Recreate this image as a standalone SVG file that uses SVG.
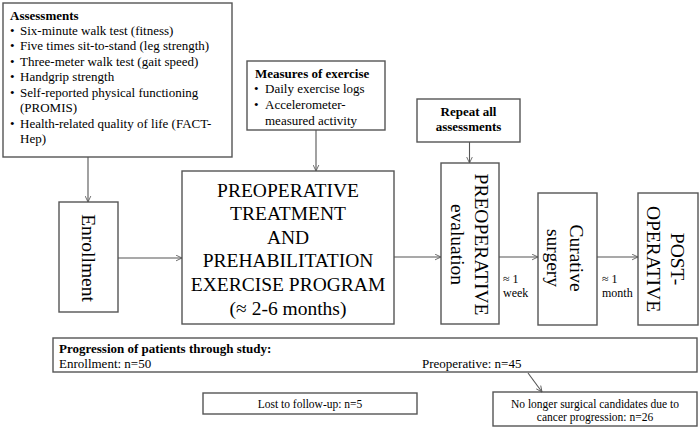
<svg xmlns="http://www.w3.org/2000/svg" width="700" height="429" viewBox="0 0 700 429">
<defs>
<marker id="arr" viewBox="0 0 10 10" refX="9.5" refY="5" markerWidth="7" markerHeight="7" markerUnits="userSpaceOnUse" orient="auto">
<path d="M1,1 L9.5,5 L1,9" fill="none" stroke="#555" stroke-width="1.2"/>
</marker>
<style>
.box{fill:#fff;stroke:#555;stroke-width:1.4}
.t{font-family:"Liberation Serif","Times New Roman",serif;fill:#000}
.s13{font-size:13px}
.b{font-weight:bold}
.big{font-size:19.5px}
.sm{font-size:12px}
.xs{font-size:11.5px}
.mid{text-anchor:middle}
.con{stroke:#555;stroke-width:1.1;fill:none;marker-end:url(#arr)}
</style>
</defs>
<rect width="700" height="429" fill="#fff"/>

<g id="assessments">
<rect class="box" x="3" y="3" width="229" height="154"/>
<text class="t s13 b" x="10" y="19.5">Assessments</text>
<g class="t s13">
<text x="10" y="34.5">•</text><text x="20" y="34.5">Six-minute walk test (fitness)</text>
<text x="10" y="50">•</text><text x="20" y="50">Five times sit-to-stand (leg strength)</text>
<text x="10" y="65.5">•</text><text x="20" y="65.5">Three-meter walk test (gait speed)</text>
<text x="10" y="81">•</text><text x="20" y="81">Handgrip strength</text>
<text x="10" y="96.5">•</text><text x="20" y="96.5">Self-reported physical functioning</text>
<text x="20" y="112">(PROMIS)</text>
<text x="10" y="127.5">•</text><text x="20" y="127.5">Health-related quality of life (FACT-</text>
<text x="20" y="143">Hep)</text>
</g>
</g>

<g id="measures">
<rect class="box" x="247" y="61" width="138" height="69"/>
<text class="t s13 b" x="255" y="77.5">Measures of exercise</text>
<g class="t s13">
<text x="254" y="93">•</text><text x="265" y="93">Daily exercise logs</text>
<text x="254" y="108.5">•</text><text x="265" y="108.5">Accelerometer-</text>
<text x="265" y="124.5">measured activity</text>
</g>
</g>

<g id="repeat">
<rect class="box" x="417" y="99" width="103" height="43"/>
<text class="t s13 b mid" x="468.5" y="116">Repeat all</text>
<text class="t s13 b mid" x="468.5" y="130.5">assessments</text>
</g>

<g id="enrollment">
<rect class="box" x="59" y="202" width="59" height="110"/>
<text class="t big mid" transform="translate(82,258) rotate(90)">Enrollment</text>
</g>

<g id="treatment">
<rect class="box" x="182" y="171" width="212" height="153"/>
<g class="t big mid">
<text x="288" y="196.5">PREOPERATIVE</text>
<text x="288" y="220.1">TREATMENT</text>
<text x="288" y="243.7">AND</text>
<text x="288" y="267.3">PREHABILITATION</text>
<text x="288" y="290.9">EXERCISE PROGRAM</text>
<text x="288" y="314.5">(≈ 2-6 months)</text>
</g>
</g>

<g id="preop-eval">
<rect class="box" x="441" y="163" width="58" height="161"/>
<text class="t big mid" transform="translate(475,244.5) rotate(90)">PREOPERATIVE</text>
<text class="t big mid" transform="translate(451,244.5) rotate(90)">evaluation</text>
</g>

<g id="surgery">
<rect class="box" x="538" y="193" width="59" height="132"/>
<text class="t big mid" transform="translate(570,258) rotate(90)">Curative</text>
<text class="t big mid" transform="translate(547,258) rotate(90)">surgery</text>
</g>

<g id="postop">
<rect class="box" x="638" y="193" width="60" height="132"/>
<text class="t big mid" transform="translate(671,259) rotate(90)">POST-</text>
<text class="t big mid" transform="translate(647,259) rotate(90)">OPERATIVE</text>
</g>

<g id="progression">
<rect class="box" x="53" y="338" width="644" height="34"/>
<text class="t s13 b" x="59" y="352.5">Progression of patients through study:</text>
<text class="t s13" x="59" y="368">Enrollment: n=50</text>
<text class="t s13" x="422" y="368">Preoperative: n=45</text>
</g>

<g id="lost">
<rect class="box" x="203" y="393" width="214" height="21"/>
<text class="t xs mid" x="310" y="407.5">Lost to follow-up: n=5</text>
</g>

<g id="no-longer">
<rect class="box" x="493" y="392" width="204" height="34"/>
<text class="t xs mid" x="595" y="407.5">No longer surgical candidates due to</text>
<text class="t xs mid" x="595" y="421">cancer progression: n=26</text>
</g>

<g id="connectors">
<line class="con" x1="88" y1="157" x2="88" y2="202"/>
<line class="con" x1="118" y1="258" x2="182" y2="258"/>
<line class="con" x1="316" y1="130" x2="316" y2="171"/>
<line class="con" x1="394" y1="257" x2="441" y2="257"/>
<line class="con" x1="469.5" y1="142" x2="469.5" y2="163"/>
<line class="con" x1="499" y1="257" x2="538" y2="257"/>
<line class="con" x1="597" y1="257" x2="638" y2="257"/>
<line class="con" x1="528" y1="373" x2="542" y2="392"/>
</g>

<g id="labels">
<text class="t sm" x="503" y="283">≈ 1</text>
<text class="t sm" x="503" y="297">week</text>
<text class="t sm" x="602" y="283">≈ 1</text>
<text class="t sm" x="602" y="297">month</text>
</g>
</svg>
